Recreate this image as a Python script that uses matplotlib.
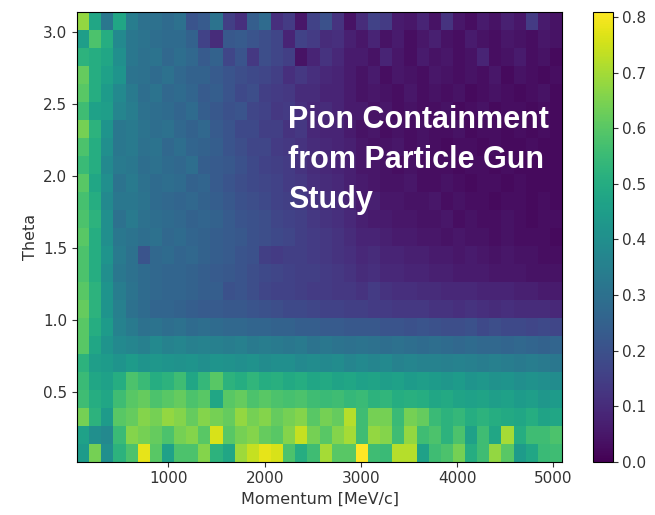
import numpy as np
import matplotlib
matplotlib.use("Agg")
import matplotlib.pyplot as plt

# Binning of the particle-gun scan
momentum_range = (50.0, 5090.0)     # MeV/c
theta_range = (0.015, 3.14)         # rad
n_momentum_bins = 40
n_theta_bins = 25

# Containment fraction in percent, rows from highest theta (top) to lowest (bottom),
# columns from lowest to highest momentum.
containment_pct = [
    [68, 48, 32, 48, 34, 30, 30, 28, 30, 21, 23, 31, 15, 11, 24, 28, 11, 14, 5, 16, 20, 12, 4, 10, 16, 14, 6, 5, 8, 4, 12, 5, 3, 6, 4, 7, 5, 14, 6, 4],
    [45, 58, 50, 38, 32, 31, 29, 28, 28, 25, 16, 10, 22, 23, 21, 19, 17, 8, 16, 14, 10, 11, 7, 5, 8, 4, 6, 3, 5, 7, 4, 3, 6, 4, 3, 5, 4, 3, 5, 4],
    [52, 50, 48, 40, 32, 30, 31, 27, 29, 27, 23, 25, 17, 21, 13, 19, 17, 15, 4, 8, 12, 9, 6, 6, 4, 8, 5, 3, 6, 4, 5, 3, 4, 8, 3, 4, 6, 3, 4, 2],
    [62, 50, 46, 42, 31, 30, 28, 30, 27, 25, 25, 23, 21, 19, 18, 17, 15, 11, 13, 11, 9, 8, 6, 4, 6, 3, 5, 4, 3, 5, 4, 3, 4, 3, 5, 2, 4, 3, 2, 3],
    [60, 50, 44, 38, 33, 29, 31, 27, 28, 26, 23, 24, 21, 18, 19, 15, 14, 13, 10, 10, 8, 8, 6, 4, 5, 4, 3, 5, 3, 4, 3, 4, 2, 3, 4, 3, 2, 3, 4, 2],
    [56, 46, 45, 37, 34, 30, 29, 28, 26, 28, 24, 22, 20, 21, 17, 16, 13, 14, 11, 9, 10, 8, 6, 6, 4, 5, 3, 4, 3, 3, 4, 2, 3, 4, 2, 3, 3, 2, 3, 2],
    [64, 52, 42, 32, 33, 31, 29, 30, 27, 25, 27, 23, 21, 18, 18, 15, 15, 12, 13, 9, 8, 8, 6, 4, 5, 3, 4, 3, 4, 3, 3, 4, 2, 3, 3, 2, 3, 2, 3, 2],
    [58, 50, 40, 32, 33, 30, 31, 27, 29, 26, 25, 24, 21, 19, 17, 17, 14, 13, 12, 10, 9, 8, 7, 5, 4, 4, 5, 3, 4, 3, 2, 3, 3, 2, 3, 2, 2, 3, 2, 2],
    [55, 50, 38, 33, 32, 29, 30, 28, 27, 29, 24, 23, 22, 20, 18, 16, 15, 14, 12, 10, 9, 8, 7, 5, 5, 4, 3, 4, 3, 3, 3, 2, 3, 3, 2, 3, 2, 2, 2, 2],
    [60, 48, 40, 31, 33, 30, 28, 29, 28, 25, 26, 23, 21, 19, 18, 17, 16, 14, 13, 11, 10, 9, 7, 6, 5, 4, 4, 5, 3, 3, 4, 3, 2, 3, 3, 2, 3, 2, 2, 2],
    [57, 50, 38, 32, 32, 31, 28, 27, 26, 27, 25, 24, 22, 20, 19, 18, 16, 15, 14, 12, 11, 10, 8, 6, 7, 5, 5, 4, 4, 5, 3, 4, 3, 3, 2, 3, 3, 2, 3, 2],
    [58, 52, 40, 30, 33, 30, 29, 28, 27, 25, 26, 25, 23, 21, 20, 19, 17, 16, 15, 13, 12, 11, 9, 7, 6, 6, 5, 5, 4, 4, 5, 3, 4, 3, 3, 4, 3, 2, 3, 3],
    [60, 50, 40, 32, 31, 29, 30, 27, 28, 26, 25, 24, 23, 22, 20, 19, 18, 17, 15, 14, 13, 12, 10, 8, 8, 7, 6, 6, 5, 5, 4, 5, 4, 4, 3, 4, 3, 3, 3, 2],
    [58, 50, 42, 33, 30, 21, 27, 28, 26, 27, 25, 24, 23, 21, 20, 15, 14, 15, 15, 14, 13, 12, 11, 9, 10, 8, 8, 7, 7, 6, 6, 5, 6, 5, 4, 5, 4, 4, 3, 3],
    [58, 50, 40, 32, 30, 28, 27, 26, 26, 25, 24, 23, 22, 21, 19, 18, 17, 16, 15, 15, 14, 13, 12, 10, 11, 9, 9, 8, 8, 7, 7, 6, 6, 6, 5, 5, 5, 4, 4, 4],
    [60, 52, 42, 34, 31, 28, 27, 26, 26, 25, 24, 24, 20, 21, 19, 17, 16, 16, 15, 14, 14, 13, 13, 12, 14, 12, 11, 11, 10, 10, 9, 9, 9, 8, 8, 8, 7, 7, 6, 6],
    [62, 52, 42, 35, 30, 28, 26, 26, 25, 24, 23, 23, 22, 22, 21, 20, 19, 18, 18, 17, 16, 16, 15, 15, 14, 14, 13, 13, 13, 12, 12, 11, 12, 11, 10, 11, 10, 10, 10, 9],
    [60, 50, 44, 36, 33, 30, 31, 29, 30, 28, 29, 28, 27, 27, 26, 26, 25, 25, 24, 24, 23, 23, 22, 22, 22, 21, 21, 20, 21, 20, 19, 19, 20, 18, 19, 18, 18, 17, 18, 17],
    [60, 48, 42, 38, 37, 35, 38, 36, 37, 35, 36, 35, 34, 35, 33, 34, 33, 32, 33, 31, 32, 31, 30, 31, 30, 29, 30, 29, 28, 29, 28, 27, 28, 27, 27, 26, 27, 26, 25, 26],
    [52, 45, 44, 42, 44, 42, 43, 42, 41, 42, 40, 42, 41, 40, 41, 39, 40, 40, 38, 39, 38, 39, 37, 38, 37, 38, 36, 37, 36, 36, 35, 36, 35, 34, 35, 34, 33, 34, 33, 32],
    [55, 48, 46, 50, 58, 55, 50, 52, 56, 48, 54, 60, 52, 50, 53, 50, 51, 49, 50, 48, 49, 47, 48, 46, 47, 45, 46, 44, 45, 44, 43, 44, 42, 43, 41, 42, 40, 41, 40, 39],
    [56, 50, 48, 56, 60, 62, 58, 60, 62, 58, 60, 48, 60, 62, 58, 60, 58, 57, 58, 56, 55, 56, 54, 55, 52, 53, 50, 51, 50, 48, 49, 47, 46, 47, 45, 46, 44, 45, 43, 44],
    [64, 52, 44, 60, 62, 66, 64, 68, 66, 62, 66, 64, 62, 68, 64, 66, 62, 64, 66, 60, 64, 62, 72, 56, 64, 64, 55, 64, 62, 55, 52, 54, 50, 52, 50, 49, 48, 50, 47, 48],
    [46, 40, 38, 55, 66, 64, 62, 58, 64, 66, 60, 76, 60, 64, 66, 62, 60, 66, 74, 64, 60, 66, 70, 56, 68, 66, 56, 68, 56, 58, 52, 58, 46, 56, 48, 70, 50, 56, 56, 58],
    [44, 64, 40, 52, 58, 78, 60, 46, 58, 58, 66, 52, 48, 69, 74, 78, 76, 58, 50, 56, 70, 60, 60, 81, 56, 55, 72, 72, 46, 56, 58, 64, 50, 56, 68, 60, 44, 48, 55, 56],
]

title_lines = ["Pion Containment", "from Particle Gun", "Study"]
x_label = "Momentum [MeV/c]"
y_label = "Theta"

# Histogram arrays (row 0 = lowest theta)
containment = np.array(containment_pct[::-1], dtype=float) / 100.0
momentum_edges = np.linspace(momentum_range[0], momentum_range[1], n_momentum_bins + 1)
theta_edges = np.linspace(theta_range[0], theta_range[1], n_theta_bins + 1)

fig = plt.figure(figsize=(6.55, 5.15), dpi=100)
ax = fig.add_axes([0.1176, 0.1035, 0.7405, 0.8738])
cax = fig.add_axes([0.9058, 0.1035, 0.0296, 0.8738])

mesh = ax.pcolormesh(momentum_edges, theta_edges, containment,
                     cmap="viridis", vmin=0.0, vmax=0.81, shading="flat")
ax.set_xlim(momentum_edges[0], momentum_edges[-1])
ax.set_ylim(theta_edges[0], theta_edges[-1])
ax.set_xlabel(x_label, fontsize=11.5, color="#333333")
ax.set_ylabel(y_label, fontsize=11.5, color="#333333")
ax.tick_params(labelsize=11, colors="#333333")

cbar = fig.colorbar(mesh, cax=cax)
cbar.set_ticks(np.arange(0.0, 0.81, 0.1))
cbar.ax.tick_params(labelsize=11, colors="#333333")

# Overlaid caption
for i, line in enumerate(title_lines):
    ax.text(0.435, 0.7416 - i * 0.0889, line, transform=ax.transAxes,
            ha="left", va="baseline", color="white", fontsize=22,
            fontweight="bold", family=["Liberation Sans", "DejaVu Sans"])

fig.savefig("out.png", dpi=100)
